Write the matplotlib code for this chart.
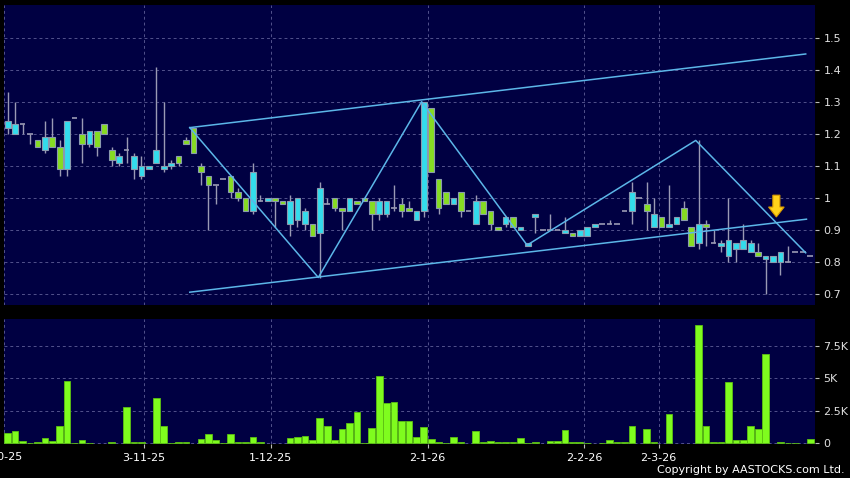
import matplotlib
matplotlib.use('Agg')
import matplotlib.pyplot as plt
from matplotlib.patches import FancyArrow
import numpy as np

# daily OHLC (one entry per bar)
opens = [1.22, 1.20, 1.23, 1.20, 1.18, 1.15, 1.19, 1.16, 1.09, 1.25,
         1.20, 1.17, 1.21, 1.23, 1.15, 1.11, 1.15, 1.09, 1.07, 1.09,
         1.11, 1.09, 1.10, 1.13, 1.18, 1.22, 1.10, 1.07, 1.04, 1.06,
         1.07, 1.02, 1.00, 0.96, 0.99, 0.99, 1.00, 0.99, 0.92, 0.93,
         0.92, 0.92, 0.89, 0.98, 1.00, 0.97, 0.96, 0.99, 1.00, 0.99,
         0.95, 0.95, 0.97, 0.98, 0.97, 0.93, 0.96, 1.28, 1.06, 1.02,
         0.98, 1.02, 0.96, 0.92, 0.99, 0.96, 0.91, 0.92, 0.94, 0.90,
         0.85, 0.94, 0.90, 0.90, 0.90, 0.89, 0.89, 0.88, 0.88, 0.91,
         0.92, 0.92, 0.92, 0.96, 0.96, 1.00, 0.98, 0.91, 0.94, 0.91,
         0.92, 0.97, 0.91, 0.86, 0.92, 0.86, 0.85, 0.82, 0.84, 0.84,
         0.83, 0.83, 0.81, 0.80, 0.80, 0.80, 0.83, 0.83, 0.82]
highs = [1.33, 1.30, 1.23, 1.20, 1.18, 1.24, 1.25, 1.18, 1.24, 1.25,
         1.25, 1.21, 1.21, 1.23, 1.16, 1.14, 1.19, 1.14, 1.13, 1.10,
         1.41, 1.30, 1.12, 1.13, 1.19, 1.22, 1.11, 1.07, 1.04, 1.06,
         1.07, 1.03, 1.00, 1.11, 1.01, 1.00, 1.00, 0.99, 1.01, 1.00,
         0.97, 0.92, 1.05, 1.00, 1.00, 0.97, 1.00, 0.99, 1.00, 0.99,
         1.00, 0.99, 1.04, 1.00, 0.99, 0.96, 1.30, 1.28, 1.06, 1.02,
         1.00, 1.02, 0.96, 1.01, 0.99, 0.96, 0.91, 0.94, 0.94, 0.91,
         0.86, 0.95, 0.90, 0.95, 0.90, 0.94, 0.89, 0.90, 0.91, 0.92,
         0.92, 0.93, 0.92, 0.96, 1.05, 1.00, 1.05, 1.00, 0.94, 1.04,
         0.94, 0.99, 0.91, 1.18, 0.93, 0.90, 0.87, 1.00, 0.86, 0.92,
         0.87, 0.86, 0.82, 0.82, 0.83, 0.85, 0.83, 0.83, 0.82]
lows = [1.20, 1.20, 1.20, 1.17, 1.16, 1.14, 1.16, 1.07, 1.07, 1.25,
        1.11, 1.16, 1.13, 1.20, 1.10, 1.10, 1.11, 1.06, 1.06, 1.09,
        1.11, 1.08, 1.09, 1.10, 1.17, 1.14, 1.04, 0.90, 0.98, 1.06,
        1.00, 0.99, 0.96, 0.95, 0.99, 0.99, 0.91, 0.98, 0.88, 0.91,
        0.90, 0.88, 0.75, 0.98, 0.96, 0.90, 0.96, 0.98, 0.99, 0.90,
        0.93, 0.94, 0.96, 0.94, 0.96, 0.93, 0.94, 1.08, 0.95, 0.98,
        0.98, 0.94, 0.96, 0.92, 0.95, 0.90, 0.90, 0.91, 0.91, 0.90,
        0.85, 0.89, 0.90, 0.90, 0.90, 0.89, 0.88, 0.88, 0.88, 0.91,
        0.92, 0.92, 0.92, 0.96, 0.92, 1.00, 0.90, 0.91, 0.91, 0.91,
        0.92, 0.93, 0.85, 0.84, 0.85, 0.86, 0.83, 0.80, 0.80, 0.84,
        0.83, 0.82, 0.70, 0.80, 0.76, 0.80, 0.83, 0.83, 0.82]
closes = [1.24, 1.23, 1.23, 1.20, 1.16, 1.19, 1.16, 1.09, 1.24, 1.25,
          1.17, 1.21, 1.16, 1.20, 1.12, 1.13, 1.15, 1.13, 1.10, 1.10,
          1.15, 1.10, 1.11, 1.11, 1.17, 1.14, 1.08, 1.04, 1.04, 1.06,
          1.02, 1.00, 0.96, 1.08, 0.99, 1.00, 0.99, 0.98, 0.99, 1.00,
          0.96, 0.88, 1.03, 0.98, 0.97, 0.96, 1.00, 0.98, 0.99, 0.95,
          0.99, 0.99, 0.97, 0.96, 0.96, 0.96, 1.30, 1.08, 0.97, 0.98,
          1.00, 0.96, 0.96, 0.99, 0.95, 0.92, 0.90, 0.94, 0.91, 0.91,
          0.86, 0.95, 0.90, 0.90, 0.90, 0.90, 0.88, 0.90, 0.91, 0.92,
          0.92, 0.92, 0.92, 0.96, 1.02, 1.00, 0.96, 0.95, 0.91, 0.92,
          0.94, 0.93, 0.85, 0.92, 0.91, 0.86, 0.86, 0.87, 0.86, 0.87,
          0.86, 0.82, 0.82, 0.82, 0.83, 0.80, 0.83, 0.83, 0.82]
volume = [820, 950, 180, 25, 100, 430, 180, 1380, 4810, 25,
          260, 75, 0, 0, 100, 0, 2790, 100, 100, 0,
          3530, 1330, 50, 100, 100, 0, 330, 690, 230, 50,
          690, 100, 100, 490, 150, 0, 0, 0, 430, 490,
          560, 260, 1950, 1330, 260, 1130, 1590, 2380, 75, 1180,
          5170, 3100, 3150, 1690, 1690, 460, 1230, 360, 150, 20,
          460, 130, 0, 920, 80, 200, 80, 80, 80, 410,
          25, 130, 0, 180, 180, 1000, 150, 150, 50, 0,
          50, 230, 80, 80, 1380, 0, 1130, 100, 0, 2280,
          0, 0, 0, 9090, 1330, 100, 80, 4690, 230, 280,
          1380, 1100, 6860, 0, 130, 50, 50, 0, 310]

dates = ['2-10-25', '3-11-25', '1-12-25', '2-1-26', '2-2-26', '2-3-26']
date_pos = [-0.95, 18.3, 35.4, 56.5, 77.6, 87.6]
price_ticks = [0.7, 0.8, 0.9, 1.0, 1.1, 1.2, 1.3, 1.4, 1.5]
vol_ticks = [0, 2500, 5000, 7500]

# drawn trend lines (bar index, price)
zig_x = [24.5, 41.8, 55.7, 69.9, 92.6, 107.4]
zig_y = [1.220, 0.752, 1.301, 0.853, 1.180, 0.829]
upper_x = [24.5, 107.4]
upper_y = [1.220, 1.450]
lower_x = [24.5, 107.5]
lower_y = [0.706, 0.934]
signal_x, signal_top, signal_tip = 103.45, 1.009, 0.941

NAVY = '#000042'
GRID = '#52528c'
WICK = '#9a9ab4'
CYAN = '#33dcec'
GREEN = '#86dc22'
EDGE = '#8a9aae'
VOL = '#7ffc1e'
VOL_EDGE = '#5cc012'
TREND = '#5cb6e8'
TXT = '#e0e0e0'
XMIN, XMAX = -0.5, 108.65

plt.rcParams['font.family'] = 'DejaVu Sans'

fig = plt.figure(figsize=(8.5, 4.78), dpi=100, facecolor='black')
ax = fig.add_axes([4 / 850, 1 - 305 / 478, 811 / 850, 300 / 478])
axv = fig.add_axes([4 / 850, 1 - 444 / 478, 811 / 850, 125 / 478], sharex=ax)

o = np.array(opens)
h = np.array(highs)
l = np.array(lows)
c = np.array(closes)
v = np.array(volume)
x = np.arange(len(o))
up = c > o
down = c < o
flat = c == o

# only dates inside the window get a real tick, the first one is cut at the edge
inside = [(p, d) for p, d in zip(date_pos, dates) if p >= XMIN]
tick_pos = [p for p, d in inside]
tick_lab = [d for p, d in inside]

for a in (ax, axv):
    a.set_facecolor(NAVY)
    for s in a.spines.values():
        s.set_visible(False)
    a.set_xticks(tick_pos)
    a.grid(True, color=GRID, lw=0.7, ls=(0, (3, 3)))
    a.set_axisbelow(True)
    a.axvline(XMIN + 0.03, color=GRID, lw=0.7, ls=(0, (3, 3)), zorder=0)
    a.yaxis.tick_right()
    a.tick_params(axis='y', length=3, width=0.8, color='#bbbbbb',
                  labelcolor=TXT, labelsize=8, pad=3)

ax.set_xlim(XMIN, XMAX)

# candles
ax.vlines(x, l, h, color=WICK, lw=1, zorder=2)
ax.bar(x[up], (c - o)[up], bottom=o[up], width=0.76, color=CYAN,
       edgecolor=EDGE, lw=0.8, zorder=3)
ax.bar(x[down], (o - c)[down], bottom=c[down], width=0.76, color=GREEN,
       edgecolor=EDGE, lw=0.8, zorder=3)
ax.hlines(c[flat], x[flat] - 0.38, x[flat] + 0.38, color=WICK, lw=1.2, zorder=3)

# trend lines
ax.plot(zig_x, zig_y, color=TREND, lw=1.1, zorder=4)
ax.plot(upper_x, upper_y, color=TREND, lw=1.1, zorder=4)
ax.plot(lower_x, lower_y, color=TREND, lw=1.1, zorder=4)

ax.add_patch(FancyArrow(signal_x, signal_top, 0, signal_tip - signal_top,
                        width=0.95, head_width=2.1, head_length=0.031,
                        length_includes_head=True, fc='#ffd21a', ec='#d89a00',
                        lw=0.8, zorder=6))

ax.set_ylim(0.666, 1.603)
ax.set_yticks(price_ticks, [f'{t:g}' for t in price_ticks])
ax.tick_params(axis='x', length=0, labelbottom=False)

# volume
axv.bar(x[v > 0], v[v > 0], width=0.9, color=VOL, edgecolor=VOL_EDGE,
        lw=0.6, zorder=3)
axv.set_ylim(-40, 9560)
axv.set_yticks(vol_ticks, ['0' if t == 0 else f'{t / 1000:g}K' for t in vol_ticks])
axv.set_xticks(tick_pos, tick_lab)
axv.tick_params(axis='x', length=3, width=0.8, color='#bbbbbb',
                labelcolor='white', labelsize=8, pad=3.5)
for p, d in zip(date_pos, dates):
    if p < XMIN:
        axv.annotate(d, xy=(p, 0), xycoords=('data', 'axes fraction'),
                     xytext=(0, -5.7), textcoords='offset points',
                     ha='center', va='top', color='white', fontsize=8,
                     annotation_clip=False)

fig.text(845 / 850, 1 - 470 / 478, 'Copyright by AASTOCKS.com Ltd.',
         ha='right', va='center', color='white', fontsize=8)

fig.savefig('out.png', dpi=100, facecolor='black')
